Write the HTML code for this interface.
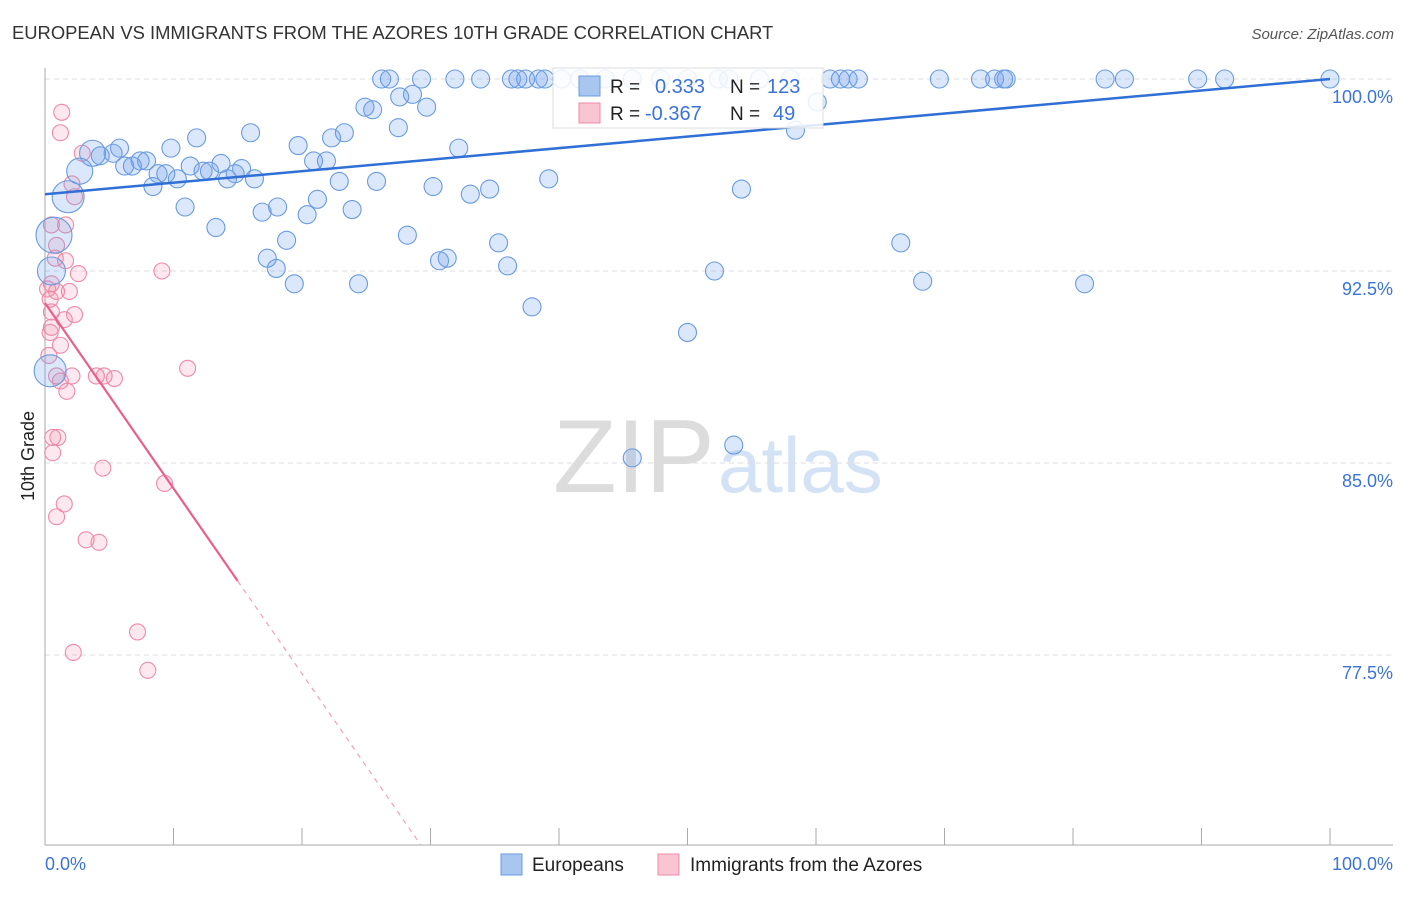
<!DOCTYPE html>
<html><head><meta charset="utf-8"><style>
body{margin:0;background:#fff;font-family:"Liberation Sans",sans-serif}
svg text{font-family:"Liberation Sans",sans-serif}
</style></head><body>
<svg id="c" width="1406" height="892" xmlns="http://www.w3.org/2000/svg">
<text x="12" y="39" font-size="18.4" fill="#333">EUROPEAN VS IMMIGRANTS FROM THE AZORES 10TH GRADE CORRELATION CHART</text>
<text x="1394" y="39" font-size="15" fill="#555" font-style="italic" text-anchor="end">Source: ZipAtlas.com</text>
<g>
<text x="553" y="492" font-size="104" fill="#dcdcdc" font-family="Liberation Serif,serif">ZIP</text>
<text x="718" y="492" font-size="78" fill="#d4e2f5">atlas</text>
</g>
<g id="grid"></g><g id="axes"></g><g id="pts"></g><g id="trend"></g>
<text transform="translate(34,456) rotate(-90)" font-size="18" fill="#222" text-anchor="middle">10th Grade</text>
<g>
<rect x="553" y="68" width="270" height="60" fill="#fff" fill-opacity="0.85" stroke="#ddd"/>
<rect x="579" y="76" width="21" height="20" fill="#a9c6f0" stroke="#6a9be0"/>
<rect x="579" y="103" width="21" height="20" fill="#f9c5d3" stroke="#ee8aa8"/>
<text x="610" y="93" font-size="19" fill="#222">R =</text><text x="655" y="93" font-size="20" fill="#3b73d9">0.333</text>
<text x="730" y="93" font-size="19" fill="#222">N =</text><text x="767" y="93" font-size="20" fill="#3b73d9">123</text>
<text x="610" y="120" font-size="19" fill="#222">R =</text><text x="645" y="120" font-size="20" fill="#3b73d9">-0.367</text>
<text x="730" y="120" font-size="19" fill="#222">N =</text><text x="773" y="120" font-size="20" fill="#3b73d9">49</text>
</g>
<g>
<rect x="501" y="854" width="21" height="21" fill="#a9c6f0" stroke="#6a9be0"/>
<text x="532" y="871" font-size="19" fill="#222">Europeans</text>
<rect x="658" y="854" width="21" height="21" fill="#f9c5d3" stroke="#ee8aa8"/>
<text x="690" y="871" font-size="19" fill="#222">Immigrants from the Azores</text>
</g>
</svg>
<script>
const yTicks=[100,92.5,85,77.5];
const yTickLabels=["100.0%","92.5%","85.0%","77.5%"];
const xTickCount=10;
const blueX=[26.2,26.8,29.3,31.9,33.9,36.3,36.8,37.4,38.4,38.9,40.2,41.6,43.6,45.7,47.9,50.0,52.4,53.2,55.6,58.0,61.1,61.9,62.5,63.3,69.6,72.8,73.9,74.6,74.8,82.5,84.0,89.7,91.8,100,
24.9,25.5,27.6,28.6,29.7,27.5,16.0,11.8,19.7,22.3,23.3,32.2,9.8,5.8,5.3,4.3,7.4,7.9,6.2,6.8,11.3,12.3,12.8,13.7,15.3,14.8,16.3,14.2,10.3,8.8,9.4,8.4,20.9,21.9,22.9,25.8,30.2,33.1,34.6,39.2,54.2,10.9,21.2,18.1,16.9,20.4,23.9,13.3,18.8,28.2,35.3,31.3,30.7,17.3,18.0,36.0,52.1,66.6,19.4,24.4,68.3,80.9,37.9,50.0,53.6,45.7,58.4,60.1,
3.7,2.7,1.8,0.7,0.5,0.4];
const blueY=[100,100,100,100,100,100,100,100,100,100,100,100,100,100,100,100,100,100,100,100,100,100,100,100,100,100,100,100,100,100,100,100,100,100,
98.9,98.8,99.3,99.4,98.9,98.1,97.9,97.7,97.4,97.7,97.9,97.3,97.3,97.3,97.1,97.0,96.8,96.8,96.6,96.6,96.6,96.4,96.4,96.7,96.5,96.3,96.1,96.1,96.1,96.3,96.3,95.8,96.8,96.8,96.0,96.0,95.8,95.5,95.7,96.1,95.7,95.0,95.3,95.0,94.8,94.7,94.9,94.2,93.7,93.9,93.6,93.0,92.9,93.0,92.6,92.7,92.5,93.6,92.0,92.0,92.1,92.0,91.1,90.1,85.7,85.2,98.0,99.1,
97.1,96.4,95.4,93.9,92.5,88.6];
const blueBig=[13,13,16,18,14,16];
const pinkX=[1.3,1.2,2.9,2.1,2.3,0.5,1.6,0.9,0.8,1.6,2.6,9.1,0.5,0.9,1.9,0.4,0.5,2.3,1.5,0.5,0.4,0.3,11.1,0.9,2.1,1.2,4.0,4.6,5.4,1.7,0.6,1.0,0.6,4.5,9.3,1.5,0.9,3.2,4.2,7.2,2.2,8.0,1.2,0.2];
const pinkY=[98.7,97.9,97.1,95.9,95.4,94.3,94.3,93.5,93.0,92.9,92.4,92.5,92.0,91.7,91.7,91.4,90.9,90.8,90.6,90.3,90.1,89.2,88.7,88.4,88.4,88.2,88.4,88.4,88.3,87.8,86.0,86.0,85.4,84.8,84.2,83.4,82.9,82.0,81.9,78.4,77.6,76.9,89.6,91.8];
const blueTrend=[95.5,100];
const pinkTrend=[91.25,-0.724];
const pinkSolidEnd=15;

const X0=45,X1=1330,Y0=79,YB=845;
const xs=v=>X0+(X1-X0)*v/100;
const ys=v=>Y0+(100-v)*25.6;
const NS="http://www.w3.org/2000/svg";
function mk(g,t,a){const e=document.createElementNS(NS,t);for(const k in a)e.setAttribute(k,a[k]);document.getElementById(g).appendChild(e);return e;}
yTicks.forEach((v,i)=>{
 const l=mk('grid','line',{x1:X0,x2:1393,y1:ys(v),y2:ys(v),stroke:'#ddd','stroke-dasharray':'5,4'});
 
 
 const t=mk('grid','text',{x:1393,y:ys(v)+24,'font-size':18,fill:'#3b73d9','text-anchor':'end'});
 t.textContent=yTickLabels[i];
 
 
});
let ax=mk('axes','line',{x1:X0,x2:X0,y1:68,y2:YB,stroke:'#aaa'});


ax=mk('axes','line',{x1:X0,x2:1393,y1:YB,y2:YB,stroke:'#aaa'});


for(let i=0;i<=xTickCount;i++){const t=mk('axes','line',{x1:xs(i*10),x2:xs(i*10),y1:828,y2:YB,stroke:'#aaa'});
 
 }
let xl=mk('axes','text',{x:45,y:870,'font-size':18,fill:'#3b73d9'});xl.textContent='0.0%';


xl=mk('axes','text',{x:1393,y:870,'font-size':18,fill:'#3b73d9','text-anchor':'end'});xl.textContent='100.0%';


pinkX.forEach((x,i)=>{const c=mk('pts','circle',{cx:xs(x),cy:ys(pinkY[i]),r:8,fill:'rgba(240,130,160,0.18)',stroke:'#ee8aa8','stroke-width':1.1});
 
 });
const nb=blueX.length, big0=nb-blueBig.length;
blueX.forEach((x,i)=>{const r=i>=big0?blueBig[i-big0]:9;
 const c=mk('pts','circle',{cx:xs(x),cy:ys(blueY[i]),r:r,fill:'rgba(110,160,235,0.25)',stroke:'#6a9be0','stroke-width':1.1});
 
 });
let tl=mk('trend','line',{x1:xs(0),y1:ys(blueTrend[0]),x2:xs(100),y2:ys(blueTrend[1]),stroke:'#2f6fd6','stroke-width':2.5});


const pf=x=>pinkTrend[0]+pinkTrend[1]*x;
const xEnd=(pinkTrend[0]-70.1)/(-pinkTrend[1]);
tl=mk('trend','line',{x1:xs(0),y1:ys(pf(0)),x2:xs(pinkSolidEnd),y2:ys(pf(pinkSolidEnd)),stroke:'#e8608a','stroke-width':2.2});


tl=mk('trend','line',{x1:xs(pinkSolidEnd),y1:ys(pf(pinkSolidEnd)),x2:xs(xEnd),y2:ys(pf(xEnd)),stroke:'#f0a0b8','stroke-width':1.2,'stroke-dasharray':'5,5'});


</script>
</body></html>
